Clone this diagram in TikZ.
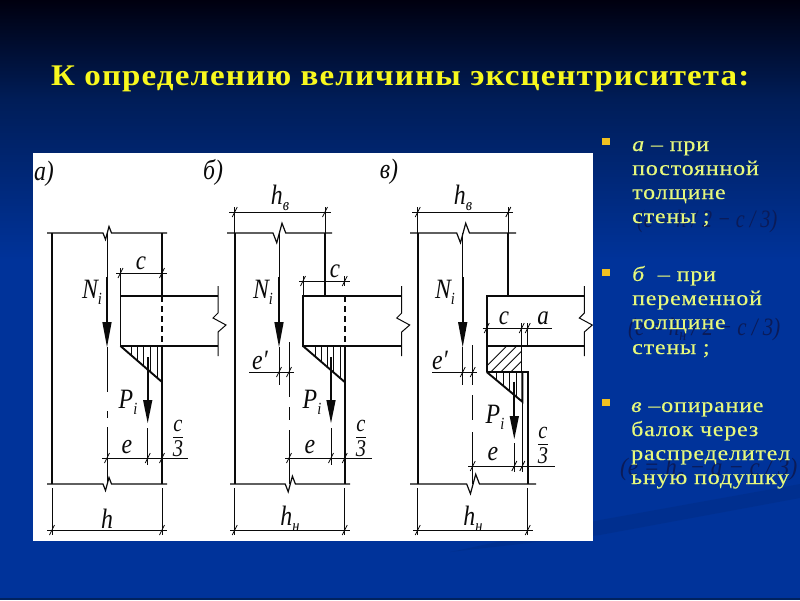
\documentclass[tikz,border=0pt]{standalone}
\usepackage{fontspec}
\setmainfont{Liberation Serif}
\newfontfamily\lab[FakeStretch=0.85]{Liberation Serif}
\newfontfamily\txt[LetterSpace=4,FakeStretch=1.14,FakeBold=0.25]{Liberation Serif}
\newfontfamily\ttl[LetterSpace=3.7,FakeStretch=1.1]{Liberation Serif}
\definecolor{bgA}{HTML}{00000F}
\definecolor{bgB}{HTML}{001D58}
\definecolor{bgC}{HTML}{00339A}
\definecolor{bgE}{HTML}{00225F}
\definecolor{ttlc}{HTML}{F8F81E}
\definecolor{txtc}{HTML}{E6F87C}
\definecolor{bull}{HTML}{F0C020}
\definecolor{ghost}{HTML}{0B1B58}
\definecolor{ink}{HTML}{0A0A0A}
\tikzset{
  wall/.style={line width=1.9,draw=ink},
  fine/.style={line width=0.8,draw=ink},
  dsh/.style={line width=1.9,draw=ink,dash pattern=on 6pt off 4pt},
  lbl/.style={font=\lab\fontsize{28}{28}\selectfont\itshape,text=ink,inner sep=0pt},
  sml/.style={font=\lab\fontsize{27}{27}\selectfont\itshape,text=ink,inner sep=0pt},
  dig/.style={font=\lab\fontsize{24}{24}\selectfont\itshape,text=ink,inner sep=0pt},
  body/.style={font=\txt\fontsize{21}{21}\selectfont,text=txtc,anchor=base west,inner sep=0pt},
  frm/.style={font=\fontsize{25}{25}\selectfont\itshape,text=ghost,anchor=base west,inner sep=0pt},
  bul/.style={fill=bull,draw=none}
}
\newcommand\subs[1]{\raisebox{-0.22em}{\fontsize{17}{17}\selectfont #1}}
\newcommand\dtick[2]{\draw[fine] ({#1-2.5},{#2+5})--({#1+2.5},{#2-5});\draw[fine] (#1,{#2-5})--(#1,{#2+5});}
% x-left x x-right y scale
\newcommand\brk[5]{\draw[wall,line width=1.2] (#1,#4)--({#2-4*#5},#4)--({#2-1.5*#5},{#4+6.5*#5})--({#2+2*#5},{#4-6.5*#5})--({#2+4.5*#5},#4)--(#3,#4);}
\newcommand\bbreak[1]{\draw[fine,line width=1] (#1,286)--(#1,313)--({#1-5},318)--({#1+8},325)--(#1,332)--(#1,356);}
% x ystart yhead ytip
\newcommand\parrow[4]{\draw[wall,line width=2] (#1,#2)--(#1,#3);\fill[ink] ({#1-4.7},#3)--({#1+4.7},#3)--(#1,#4)--cycle;}
\newcommand\cthird[3]{% x barY name-prefix
  \node[dig] (#3c) at (#1,{#2-11}) {c};
  \draw[fine,line width=1] ({#1-5},#2)--({#1+5},#2);
  \node[dig] (#3t) at (#1,{#2+12}) {3};}
\begin{document}
\begin{tikzpicture}[x=1pt,y=-1pt]
\useasboundingbox (0,0) rectangle (800,600);
% background
\shade[top color=bgA,bottom color=bgB,draw=none] (0,0) rectangle (800,100);
\shade[top color=bgB,bottom color=bgC,draw=none] (0,100) rectangle (800,260);
\fill[bgC] (0,260) rectangle (800,600);
\fill[bgE] (0,598) rectangle (800,600);
\fill[bgE,opacity=0.18] (450,552) -- (600,520) -- (800,484) -- (800,498) -- (600,535) -- cycle;
% title
\node[font=\ttl\bfseries\fontsize{30}{30}\selectfont,text=ttlc,anchor=base west,inner sep=0pt] (title) at (51,85) {К определению величины эксцентриситета:};
% white panel
\fill[white] (33,153) rectangle (593,541);
% panel letters
\node[lbl] (pa) at (44,174) {а)};
\node[lbl] (pb) at (213,172) {б)};
\node[lbl] (pv) at (389,172) {в)};

%%%%%% panel a
\brk{47}{107}{167}{233}{1}
\brk{47}{107}{167}{484}{1}
\draw[wall] (52,233)--(52,484);
\draw[wall] (162,233)--(162,296);
\draw[dsh] (162,296)--(162,346);
\draw[wall] (162,346)--(162,484);
\draw[wall] (218,296)--(120.5,296)--(120.5,346)--(218,346);
\bbreak{218}
\draw[fine] (116,273)--(167,273);
\dtick{120.5}{273}\dtick{162}{273}
\draw[fine] (120.5,268)--(120.5,296);
\node[sml] (ca) at (141,263) {c};
\draw[fine] (107,233)--(107,277);
\parrow{107}{277}{322}{347}
\draw[fine] (107,347)--(107,392) (107,411)--(107,418) (107,427)--(107,484);
\node[lbl] (na) at (92,292) {N\subs{i}};
\draw[wall] (120.5,346)--(162,382);
\foreach \h in {131.7,137,143,150,157}{\draw[fine] (\h,346)--(\h,{346+(\h-120.5)*36/41.5});}
\parrow{147.7}{357}{400}{423}
\draw[fine] (147.7,428)--(147.7,465);
\node[lbl] (pia) at (128,402) {P\subs{i}};
\draw[fine] (102,458)--(188,458);
\dtick{107}{458}\dtick{147.7}{458}\dtick{162}{458}
\node[lbl] (ea) at (127,447) {e};
\cthird{178}{437}{fa}
\draw[fine] (52,488)--(52,535) (162,488)--(162,535);
\draw[fine] (47,530)--(167,530);
\dtick{52}{530}\dtick{162}{530}
\node[lbl] (ha) at (107,519) {h};

%%%%%% panel b
\brk{227}{279}{332}{233}{1.5}
\brk{230}{290}{350}{484}{1.2}
\draw[wall] (234.7,233)--(234.7,484);
\draw[wall] (325,233)--(325,296);
\draw[dsh] (344.7,296)--(344.7,346);
\draw[wall] (344.7,346)--(344.7,484);
\draw[wall] (401.7,296)--(303,296)--(303,346)--(401.7,346);
\bbreak{401.7}
\draw[fine] (229,212)--(331,212);
\dtick{234.7}{212}\dtick{325}{212}
\draw[fine] (234.7,212)--(234.7,233) (325,212)--(325,233);
\node[lbl] (hb) at (280,198) {h\subs{в}};
\draw[fine] (299,281)--(350,281);
\dtick{303}{281}\dtick{344.7}{281}
\draw[fine] (303,276)--(303,296);
\node[sml] (cb) at (335,271) {c};
\draw[fine] (279,233)--(279,277);
\parrow{279}{277}{322}{347}
\draw[fine] (279,347)--(279,385);
\draw[fine] (289,342)--(289,397) (289,407)--(289,420) (289,430)--(289,484);
\draw[fine] (249,372)--(294,372);
\dtick{279}{372}\dtick{289}{372}
\node[lbl] (epb) at (260,360) {e′};
\node[lbl] (nb) at (263,292) {N\subs{i}};
\draw[wall] (303,346)--(344.7,382);
\foreach \h in {315,321,327,333,340}{\draw[fine] (\h,346)--(\h,{346+(\h-303)*36/41.7});}
\parrow{331}{357}{400}{423}
\draw[fine] (331,428)--(331,465);
\node[lbl] (pib) at (312,402) {P\subs{i}};
\draw[fine] (285,458)--(372,458);
\dtick{289}{458}\dtick{331}{458}\dtick{344.7}{458}
\node[lbl] (eb) at (310,447) {e};
\cthird{361}{437}{fb}
\draw[fine] (234.7,488)--(234.7,535) (344.7,488)--(344.7,535);
\draw[fine] (230,530)--(350,530);
\dtick{234.7}{530}\dtick{344.7}{530}
\node[lbl] (hnb) at (290,519) {h\subs{н}};

%%%%%% panel v
\brk{410}{462.7}{516}{233}{1.5}
\brk{410}{472.7}{536}{484}{1.5}
\draw[wall] (417.7,233)--(417.7,484);
\draw[wall] (508.3,233)--(508.3,296);
\draw[wall] (584.3,296)--(486.7,296)--(486.7,372);
\draw[wall] (486.7,346)--(584.3,346);
\bbreak{584.3}
\draw[fine] (412,212)--(513,212);
\dtick{417.7}{212}\dtick{508.3}{212}
\draw[fine] (417.7,212)--(417.7,233) (508.3,212)--(508.3,233);
\node[lbl] (hv) at (463,198) {h\subs{в}};
% pad
\begin{scope}
\clip (486.7,346) rectangle (521.7,372);
\foreach \k in {0,1,...,6}{\draw[fine] ({486.7+\k*10-6},372)--({486.7+\k*10+20},346);}
\end{scope}
\draw[fine] (521.7,323)--(521.7,372);
\draw[fine] (527.7,323)--(527.7,346);
\draw[wall] (486.7,372)--(527.7,372)--(527.7,484);
\draw[wall] (486.7,372)--(522.3,401.7)--(522.3,372);
\foreach \h in {496.7,503,509,516}{\draw[fine] (\h,372)--(\h,{372+(\h-486.7)*29.7/35.6});}
\draw[fine] (522.3,402)--(522.3,472);
\draw[fine] (482.7,328)--(551.7,328);
\dtick{486.7}{328}\dtick{521.7}{328}\dtick{527.7}{328}
\node[sml] (cv) at (504,318) {c};
\node[sml] (av) at (543,318) {a};
\draw[fine] (462.7,233)--(462.7,277);
\parrow{462.7}{277}{322}{347}
\draw[fine] (462.7,347)--(462.7,385);
\draw[fine] (472.7,345)--(472.7,385) (472.7,395)--(472.7,420) (472.7,432)--(472.7,484);
\draw[fine] (432,372)--(477,372);
\dtick{462.7}{372}\dtick{472.7}{372}
\node[lbl] (epv) at (440,360) {e′};
\node[lbl] (nv) at (445,292) {N\subs{i}};
\parrow{514.3}{381.7}{416}{439}
\draw[fine] (514.3,443)--(514.3,472);
\node[lbl] (piv) at (495,417) {P\subs{i}};
\draw[fine] (468,466)--(555,466);
\dtick{472.7}{466}\dtick{514.3}{466}\dtick{522.3}{466}
\node[lbl] (ev) at (493,454) {e};
\cthird{543}{444}{fv}
\draw[fine] (417.7,488)--(417.7,535) (527.7,488)--(527.7,535);
\draw[fine] (413,530)--(533,530);
\dtick{417.7}{530}\dtick{527.7}{530}
\node[lbl] (hnv) at (473,519) {h\subs{н}};

%%%%%% ghost formulas
\node[frm] (g1) at (637,227) {\resizebox{140pt}{\height}{(e = h / 2 − c / 3)}};
\node[frm] (g2) at (628,335) {\resizebox{152pt}{\height}{(e = h\subs{н} / 2 − c / 3)}};
\node[frm] (g3) at (620,475) {\resizebox{177pt}{\height}{(e = h\subs{в} − a − c / 3)}};

%%%%%% bullets
\fill[bul] (602,138) rectangle (610,145);
\fill[bul] (602,269) rectangle (610,276);
\fill[bul] (602,399) rectangle (610,406);
\node[body] (t11) at (632,151) {{\itshape а} – при};
\node[body] (t12) at (632,175) {постоянной};
\node[body] (t13) at (632,199) {толщине};
\node[body] (t14) at (632,223) {стены ;};
\node[body] (t21) at (632,281) {{\itshape б}\ \ – при};
\node[body] (t22) at (632,305) {переменной};
\node[body] (t23) at (632,329) {толщине};
\node[body] (t24) at (632,354) {стены ;};
\node[body] (t31) at (631,412) {{\itshape в} –опирание};
\node[body] (t32) at (631,436) {балок через};
\node[body] (t33) at (631,460) {распределител};
\node[body] (t34) at (631,484) {ьную подушку};
\end{tikzpicture}
\end{document}
